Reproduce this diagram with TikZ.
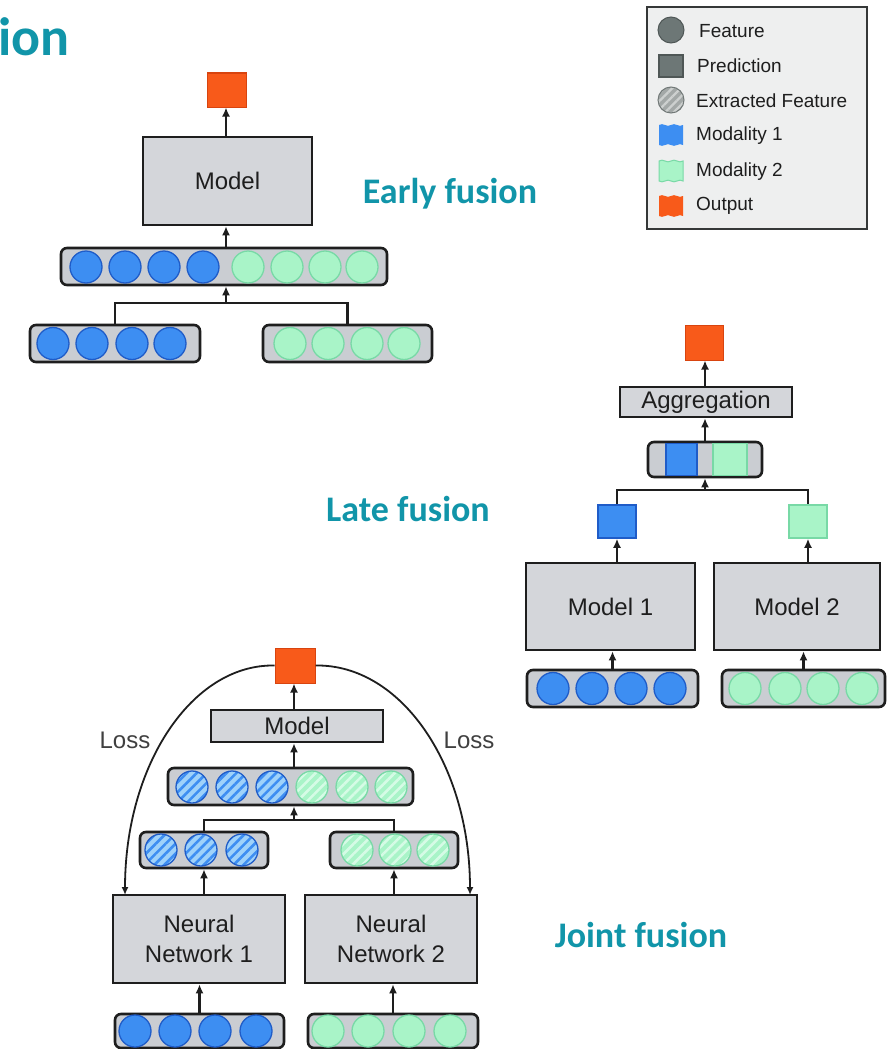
\documentclass[tikz,border=0pt]{standalone}
\usepackage{fontspec}
\setmainfont{Liberation Sans}
\newfontfamily\calfont{Carlito}
\usetikzlibrary{arrows.meta,patterns.meta}

\definecolor{ink}{HTML}{1E1E1E}
\definecolor{boxgray}{HTML}{D4D6DA}
\definecolor{bargray}{HTML}{CACDD2}
\definecolor{blueF}{HTML}{3D8EF2}
\definecolor{blueD}{HTML}{1F5CC8}
\definecolor{blueL}{HTML}{9FD2FA}
\definecolor{greenF}{HTML}{A9F4C8}
\definecolor{greenD}{HTML}{78D9A6}
\definecolor{greenL}{HTML}{D6FBE6}
\definecolor{orangeF}{HTML}{F85A1A}
\definecolor{orangeD}{HTML}{D8440F}
\definecolor{fusionteal}{HTML}{1195A9}
\definecolor{legendF}{HTML}{EEEFEF}
\definecolor{legendD}{HTML}{353838}
\definecolor{slate}{HTML}{6D7776}
\definecolor{slateD}{HTML}{4F5756}
\definecolor{slateL}{HTML}{A3A8A7}
\definecolor{slateS}{HTML}{CDD0CF}

\tikzset{
  box/.style={draw=ink, line width=2.6pt, fill=boxgray, inner sep=0pt, align=center,
    font=\fontsize{24}{30}\selectfont, text=ink},
  bar/.style={draw=ink, line width=2.6pt, fill=bargray, rounded corners=6pt, inner sep=0pt},
  featB/.style={circle, inner sep=0pt, minimum size=32pt, fill=blueF, draw=blueD, line width=1.3pt},
  featG/.style={circle, inner sep=0pt, minimum size=32pt, fill=greenF, draw=greenD, line width=1.3pt},
  xfeatB/.style={circle, inner sep=0pt, minimum size=32pt, preaction={fill=blueL},
    pattern={Lines[angle=45,distance=7pt,line width=2.6pt]}, pattern color=blueF,
    draw=blueD, line width=1.3pt},
  xfeatG/.style={circle, inner sep=0pt, minimum size=32pt, preaction={fill=greenF},
    pattern={Lines[angle=45,distance=7pt,line width=2.6pt]}, pattern color=greenL,
    draw=greenD, line width=1.3pt},
  predB/.style={rectangle, inner sep=0pt, fill=blueF, draw=blueD, line width=1.5pt},
  predG/.style={rectangle, inner sep=0pt, fill=greenF, draw=greenD, line width=1.5pt},
  outsq/.style={rectangle, inner sep=0pt, fill=orangeF, draw=orangeD, line width=1pt},
  link/.style={draw=ink, line width=2.5pt},
  arr/.style={link, -{Latex[length=9pt,width=8pt]}},
  fusionlbl/.style={font=\fontsize{36}{40}\calfont\bfseries, text=fusionteal, inner sep=0pt},
  legtext/.style={anchor=west, inner sep=0pt, font=\fontsize{19}{22}\selectfont, text=ink},
  losslbl/.style={font=\fontsize{24}{28}\selectfont, text=ink!85, inner sep=0pt},
}

% wavy swatch used in the legend
\newcommand\legendflag[3]{%
  \path[#3] (#1-12,#2-10) .. controls (#1-8,#2-13) and (#1-4,#2-7) .. (#1,#2-10)
    .. controls (#1+4,#2-13) and (#1+8,#2-7) .. (#1+12,#2-10) -- (#1+12,#2+10)
    .. controls (#1+8,#2+7) and (#1+4,#2+13) .. (#1,#2+10)
    .. controls (#1-4,#2+7) and (#1-8,#2+13) .. (#1-12,#2+10) -- cycle;}

\begin{document}
\begin{tikzpicture}[x=1pt,y=-1pt]
\useasboundingbox[fill=white] (0,0) rectangle (887,1049);

% heading
\node[anchor=base west, inner sep=0pt, font=\fontsize{54}{56}\calfont\bfseries, text=fusionteal]
  (heading) at (-2,56) {ion};

% ---------------- legend ----------------
\node[draw=legendD, line width=1.5pt, fill=legendF, minimum width=220pt, minimum height=222pt,
  inner sep=0pt] (legend) at (757,118) {};
\node[circle, inner sep=0pt, minimum size=26pt, fill=slate, draw=slateD, line width=1pt] (lgfeat) at (671,30) {};
\node[rectangle, inner sep=0pt, minimum width=24pt, minimum height=22pt, fill=slate, draw=slateD, line width=1.2pt] (lgpred) at (671,66) {};
\node[circle, inner sep=0pt, minimum size=26pt, preaction={fill=slateL},
  pattern={Lines[angle=45,distance=6pt,line width=2.2pt]}, pattern color=slateS,
  draw=slateD!80, line width=1pt] (lgext) at (671,100) {};
\legendflag{671}{135}{fill=blueF}
\legendflag{671}{171}{fill=greenF, draw=greenD, line width=1pt}
\legendflag{671}{206}{fill=orangeF}
\node[legtext] (lt1) at (699,31) {Feature};
\node[legtext] (lt2) at (697,66) {Prediction};
\node[legtext] (lt3) at (696,101) {Extracted Feature};
\node[legtext] (lt4) at (696,136) {Modality 1};
\node[legtext] (lt5) at (696,172) {Modality 2};
\node[legtext] (lt6) at (696,206) {Output};

% ---------------- early fusion ----------------
\node[fusionlbl] (earlylbl) at (450,194) {Early fusion};
\node[outsq, minimum width=39pt, minimum height=34pt] (eout) at (226.5,90) {};
\node[box, minimum width=169pt, minimum height=88pt] (emodel) at (227.5,181) {Model};
\node[bar, minimum width=326pt, minimum height=37pt] (ecat) at (224,266.5) {};
\foreach \x [count=\i] in {86,125,164,203} \node[featB] (ecb\i) at (\x,267) {};
\foreach \x [count=\i] in {248,287,325,362} \node[featG] (ecg\i) at (\x,267) {};
\node[bar, minimum width=170pt, minimum height=37pt] (eL) at (115,343.5) {};
\foreach \x [count=\i] in {53,92,132,170} \node[featB] (elb\i) at (\x,343.5) {};
\node[bar, minimum width=169pt, minimum height=37pt] (eR) at (347.5,343.5) {};
\foreach \x [count=\i] in {290,328,367,404} \node[featG] (erg\i) at (\x,343.5) {};
\coordinate (ejn) at (226,303);
\draw[link] (eL.north) |- (ejn) -| (eR.north);
\draw[arr] (ejn) -- (ejn |- ecat.south);
\draw[arr] (ejn |- ecat.north) -- (ejn |- emodel.south);
\draw[arr] (ejn |- emodel.north) -- (ejn |- eout.south);

% ---------------- late fusion ----------------
\node[fusionlbl] (latelbl) at (408,509) {Late fusion};
\node[outsq, minimum width=38pt, minimum height=35pt] (lout) at (704,342.5) {};
\node[box, minimum width=172pt, minimum height=30pt] (lagg) at (706,402) {Aggregation};
\node[bar, minimum width=114pt, minimum height=35pt] (lcat) at (705,459.5) {};
\node[predB, minimum width=31pt, minimum height=32pt] (lcb) at (681.5,459.5) {};
\node[predG, minimum width=34pt, minimum height=32pt] (lcg) at (730,459.5) {};
\coordinate (ljn) at (705,490);
\node[predB, minimum width=38pt, minimum height=33pt] (lq1) at (617,521.5) {};
\node[predG, minimum width=38pt, minimum height=33pt] (lq2) at (808,521.5) {};
\node[box, minimum width=169pt, minimum height=87pt] (lm1) at (610.5,606.5) {Model 1};
\node[box, minimum width=166pt, minimum height=87pt] (lm2) at (797,606.5) {Model 2};
\node[bar, minimum width=171pt, minimum height=37pt] (lb1) at (612.5,688.5) {};
\foreach \x [count=\i] in {553,592,631,670} \node[featB] (lbb\i) at (\x,688.5) {};
\node[bar, minimum width=163pt, minimum height=37pt] (lb2) at (803.5,688.5) {};
\foreach \x [count=\i] in {745,785,823,862} \node[featG] (lbg\i) at (\x,688.5) {};
\draw[arr] (lb1.north) -- (lb1.north |- lm1.south);
\draw[arr] (lb2.north) -- (lb2.north |- lm2.south);
\draw[arr] (lq1.south |- lm1.north) -- (lq1.south);
\draw[arr] (lq2.south |- lm2.north) -- (lq2.south);
\draw[link] (lq1.north) |- (ljn) -| (lq2.north);
\draw[arr] (ljn) -- (ljn |- lcat.south);
\draw[arr] (ljn |- lcat.north) -- (ljn |- lagg.south);
\draw[arr] (ljn |- lagg.north) -- (ljn |- lout.south);

% ---------------- joint fusion ----------------
\node[fusionlbl] (jointlbl) at (641,935) {Joint fusion};
\node[outsq, minimum width=40pt, minimum height=35pt] (jout) at (295,665.5) {};
\node[box, minimum width=172pt, minimum height=32pt] (jmodel) at (297,726) {Model};
\node[bar, minimum width=245pt, minimum height=37pt] (jcat) at (290.5,786.5) {};
\foreach \x [count=\i] in {192,232,272} \node[xfeatB] (jcb\i) at (\x,787) {};
\foreach \x [count=\i] in {312,352,391} \node[xfeatG] (jcg\i) at (\x,787) {};
\coordinate (jjn) at (294,820);
\node[bar, minimum width=128pt, minimum height=36pt] (jL) at (204,850) {};
\foreach \x [count=\i] in {161,201,242} \node[xfeatB] (jlb\i) at (\x,850) {};
\node[bar, minimum width=128pt, minimum height=36pt] (jR) at (394,850) {};
\foreach \x [count=\i] in {357,395,433} \node[xfeatG] (jrg\i) at (\x,850) {};
\node[box, minimum width=172pt, minimum height=88pt] (jn1) at (199,939) {Neural\\Network 1};
\node[box, minimum width=172pt, minimum height=88pt] (jn2) at (391,939) {Neural\\Network 2};
\node[bar, minimum width=169pt, minimum height=34pt] (jb1) at (199.5,1031) {};
\foreach \x [count=\i] in {135,175,215,256} \node[featB] (jbb\i) at (\x,1031) {};
\node[bar, minimum width=170pt, minimum height=34pt] (jb2) at (393,1031) {};
\foreach \x [count=\i] in {328,368,409,450} \node[featG] (jbg\i) at (\x,1031) {};
\draw[arr] (jb1.north) -- (jb1.north |- jn1.south);
\draw[arr] (jb2.north) -- (jb2.north |- jn2.south);
\draw[arr] (jL.south |- jn1.north) -- (jL.south);
\draw[arr] (jR.south |- jn2.north) -- (jR.south);
\draw[link] (jL.north) |- (jjn) -| (jR.north);
\draw[arr] (jjn) -- (jjn |- jcat.south);
\draw[arr] (jjn |- jcat.north) -- (jjn |- jmodel.south);
\draw[arr] (jjn |- jmodel.north) -- (jjn |- jout.south);
% loss paths back to the two networks
\coordinate (jlossL) at (125,895);
\coordinate (jlossR) at (470,895);
\draw[link, line width=1.8pt, -{Latex[length=8pt,width=7pt]}]
  (jout.west) .. controls (192,664) and (125,765) .. (jlossL);
\draw[link, line width=1.8pt, -{Latex[length=8pt,width=7pt]}]
  (jout.east) .. controls (401,664) and (470,765) .. (jlossR);
\node[losslbl] (lossL) at (125,740) {Loss};
\node[losslbl] (lossR) at (469,740) {Loss};
\end{tikzpicture}
\end{document}
